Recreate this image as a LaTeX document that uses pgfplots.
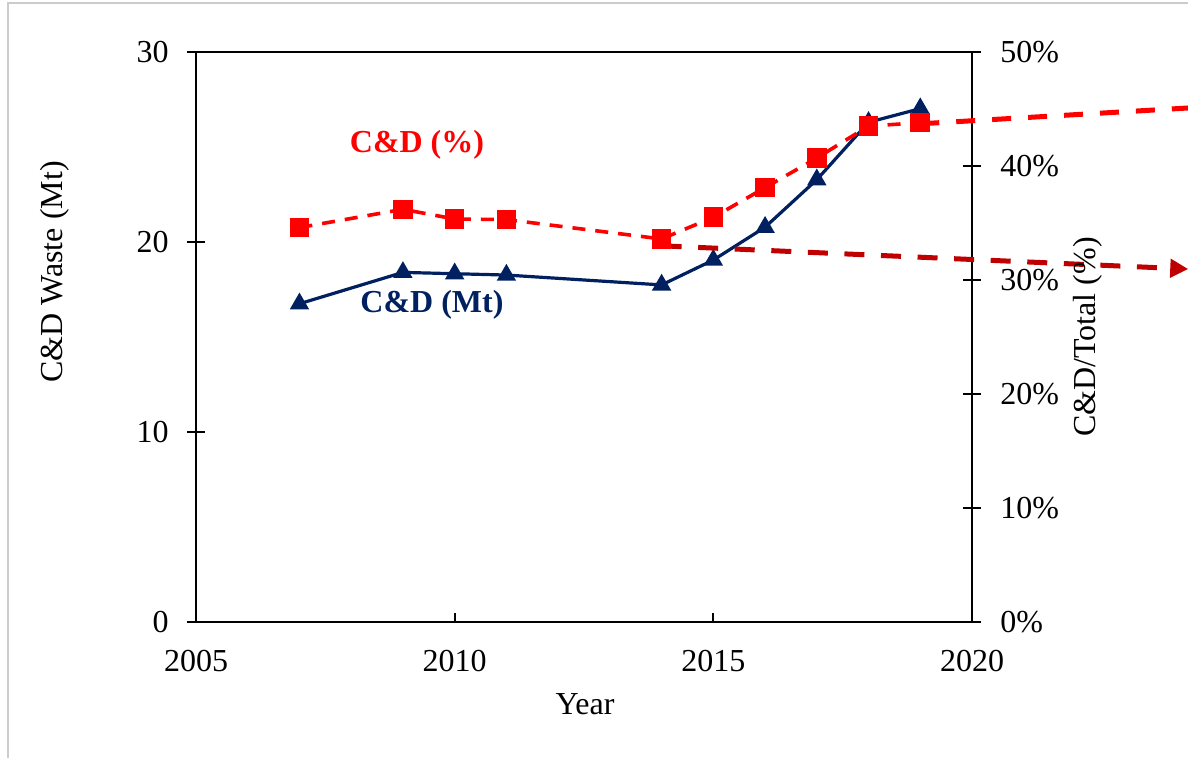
\documentclass[border=0pt]{standalone}
\usepackage{fontspec}
\setmainfont{Liberation Serif}
\usepackage{pgfplots}
\pgfplotsset{compat=1.18}
\usetikzlibrary{arrows.meta}
\definecolor{navy}{HTML}{002060}
\definecolor{cdred}{HTML}{FF0000}
\definecolor{darkred}{HTML}{C00000}
\begin{document}
\begin{tikzpicture}[font=\fontsize{16}{19}\selectfont]
\pgfplotsset{
  base/.style={scale only axis, width=388pt, height=285pt, xmin=2005, xmax=2020,
    at={(0,0)}, anchor=south west, clip=false,
    /pgf/number format/assume math mode=true,
    /pgf/number format/set thousands separator={},
    axis line style={line width=1pt, black}}
}
% box and x axis
\begin{axis}[base, ymin=0, ymax=30,
  xtick={2005,2010,2015,2020}, xtick pos=bottom, ytick=\empty,
  tick align=inside, major tick length=4.5pt,
  xtick style={line width=0.9pt, black},
  xticklabel style={anchor=north, inner sep=0pt, yshift=-14pt}]
\end{axis}
% left axis: C&D (Mt)
\begin{axis}[base, ymin=0, ymax=30, axis y line*=left, axis x line=none,
  ytick={0,10,20,30}, tick align=center, major tick length=9pt,
  ytick style={line width=0.9pt, black},
  yticklabel style={anchor=east, inner sep=0pt, xshift=-9pt}]
\addplot[navy, line width=1.6pt, mark=triangle*, mark size=4pt, mark options={solid}] coordinates {
  (2007,16.75) (2009,18.40) (2010,18.33) (2011,18.26) (2014,17.74)
  (2015,19.05) (2016,20.78) (2017,23.28) (2018,26.30) (2019,27.02)};
\end{axis}
% right axis: C&D/Total (%)
\begin{axis}[base, ymin=0, ymax=50, axis y line*=right, axis x line=none,
  ytick={0,10,20,30,40,50}, tick align=center, major tick length=9pt,
  ytick style={line width=0.9pt, black},
  yticklabel={\pgfmathprintnumber{\tick}\%},
  yticklabel style={anchor=west, inner sep=0pt, xshift=9.5pt}]
\addplot[darkred, line width=2.5pt, dash pattern=on 10pt off 8.3pt, -{Triangle[length=9pt,width=9pt]}] coordinates {
  (2014,33.0) (2024.18,30.96)};
\addplot[cdred, line width=2.5pt, dash pattern=on 9.5pt off 8.5pt] coordinates {
  (2019,43.7) (2024.18,45.09)};
\addplot[cdred, line width=1.8pt, dash pattern=on 6.5pt off 5pt, mark=square*, mark size=4pt, mark options={solid}] coordinates {
  (2007,34.6) (2009,36.2) (2010,35.35) (2011,35.3) (2014,33.6)
  (2015,35.5) (2016,38.1) (2017,40.7) (2018,43.5) (2019,43.8)};
\end{axis}
\node[rotate=90] at (-70.5pt,175pt) {C\&D Waste (Mt)};
\node[rotate=90] at (446pt,142.5pt) {C\&D/Total (\%)};
\node at (194.5pt,-41pt) {Year};
\node[text=cdred, font=\fontsize{16}{19}\selectfont\bfseries] at (110.5pt,238.5pt) {C\&D (\%)};
\node[text=navy, font=\fontsize{16}{19}\selectfont\bfseries] at (118pt,158.5pt) {C\&D (Mt)};
\draw[black!20, line width=1pt] (-94pt,-68pt) -- (-94pt,309.5pt) -- (496pt,309.5pt);
\pgfresetboundingbox
\path[use as bounding box] (-98pt,-68pt) rectangle (496pt,311pt);
\end{tikzpicture}
\end{document}
